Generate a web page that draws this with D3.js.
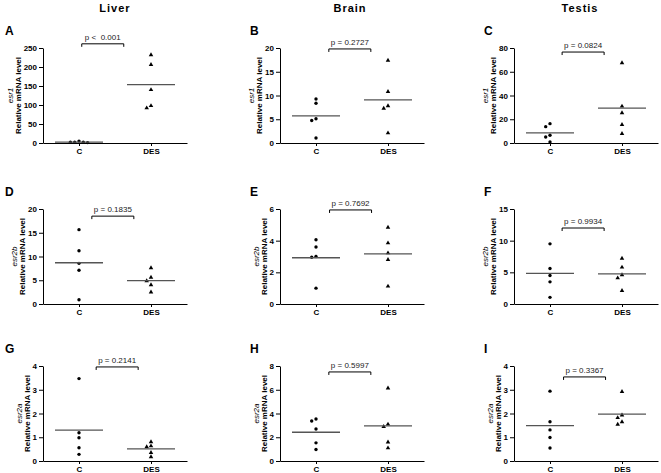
<!DOCTYPE html>
<html>
<head>
<meta charset="utf-8">
<script src="https://cdn.jsdelivr.net/npm/d3@7"></script>
<style>
  body { margin: 0; background: #fff; }
  svg { font-family: 'Liberation Sans', Arial, sans-serif; }
  .axis text { font-size: 8px; font-weight: bold; fill: #000; }
  .axis path, .axis line { stroke: #000; }
</style>
</head>
<body>
<div class="chart"></div>
<script>
'use strict'
// Data.
const tissues = ['Liver', 'Brain', 'Testis'];
const genes = ['esr1', 'esr2b', 'esr2a'];
const groups = ['C', 'DES'];
const letters = [['A', 'B', 'C'], ['D', 'E', 'F'], ['G', 'H', 'I']];

// esr1
const liverEsr1C = [5, 2, 1, 2, 2];
const liverEsr1DES = [232, 206, 140, 92, 98];
const brainEsr1C = [9.27, 8.36, 5.09, 4.74, 1.05];
const brainEsr1DES = [17.4, 10.8, 7.8, 7.3, 2.1];
const testisEsr1C = [16.3, 13.75, 6.5, 5.05, 0.8];
const testisEsr1DES = [67.4, 30.9, 25.3, 15.4, 7.9];
// esr2b
const liverEsr2bC = [15.65, 11.2, 8.56, 7.1, 0.9];
const liverEsr2bDES = [7.6, 5.6, 4.85, 4.0, 2.5];
const brainEsr2bC = [4.06, 3.6, 3.0, 2.95, 1.0];
const brainEsr2bDES = [4.84, 3.85, 3.22, 2.8, 1.12];
const testisEsr2bC = [9.5, 5.6, 4.5, 3.5, 1.05];
const testisEsr2bDES = [7.2, 5.8, 4.6, 4.1, 2.1];
// esr2a
const liverEsr2aC = [3.47, 1.19, 0.98, 0.56, 0.28];
const liverEsr2aDES = [0.8, 0.63, 0.59, 0.35, 0.17];
const brainEsr2aC = [3.54, 3.37, 2.7, 1.53, 0.97];
const brainEsr2aDES = [6.13, 3.09, 2.9, 1.59, 1.09];
const testisEsr2aC = [2.94, 1.65, 1.31, 0.99, 0.55];
const testisEsr2aDES = [2.92, 1.93, 1.82, 1.65, 1.54];

const panelValues = [
  [[liverEsr1C, liverEsr1DES], [brainEsr1C, brainEsr1DES], [testisEsr1C, testisEsr1DES]],
  [[liverEsr2bC, liverEsr2bDES], [brainEsr2bC, brainEsr2bDES], [testisEsr2bC, testisEsr2bDES]],
  [[liverEsr2aC, liverEsr2aDES], [brainEsr2aC, brainEsr2aDES], [testisEsr2aC, testisEsr2aDES]]
];

// y axis maxima and tick steps
const yMax = [[250, 20, 80], [20, 6, 15], [4, 8, 4]];
const yStep = [[50, 5, 20], [5, 2, 5], [1, 2, 1]];

// p values and the height (data units) of the comparison bracket
const pLabels = [
  ['p <  0.001', 'p = 0.2727', 'p = 0.0824'],
  ['p = 0.1835', 'p = 0.7692', 'p = 0.9934'],
  ['p = 0.2141', 'p = 0.5997', 'p = 0.3367']
];
const bracketLevel = [[261, 19.8, 76.6], [18.5, 5.94, 12.0], [3.96, 7.5, 3.54]];

// Layout.
const width = 661;
const height = 473;
const colLeft = [43, 280, 514];
const plotWidth = 144;
const rowTop = [48, 209, 366];
const plotHeight = 95;
const bracketCenter = [[0.33, 0.47, 0.46], [0.47, 0.48, 0.46], [0.53, 0.47, 0.48]];
const bracketHalf = 21;

const svg = d3.select('.chart')
  .append('svg')
  .attr('width', width)
  .attr('height', height);

// column titles
svg.selectAll('.title')
  .data(tissues)
  .enter()
  .append('text')
  .attr('class', 'title')
  .attr('x', (d, i) => colLeft[i] + [72, 70, 66][i])
  .attr('y', 12)
  .attr('text-anchor', 'middle')
  .style('font-size', '11px')
  .style('font-weight', 'bold')
  .style('letter-spacing', '1px')
  .text(d => d);

// spread points of similar value sideways, like a column scatter
function dodge(values, y, cx) {
  const stepX = 4.3, minDist = 4;
  const placed = [];
  const order = values.map((v, i) => i).sort((a, b) => values[b] - values[a]);
  const slots = [0, -1, 1, -2, 2, -3, 3];
  order.forEach(i => {
    const py = y(values[i]);
    for (const s of slots) {
      const px = cx + s * stepX;
      if (placed.every(p => Math.hypot(p.x - px, p.y - py) >= minDist)) {
        placed.push({ x: px, y: py, v: values[i] });
        break;
      }
    }
  });
  return placed;
}

const triangle = d3.symbol().type(d3.symbolTriangle).size(9);

for (let r = 0; r < 3; r++) {
  for (let c = 0; c < 3; c++) {
    const x0 = colLeft[c];
    const y0 = rowTop[r];
    const g = svg.append('g');

    const x = d3.scalePoint(groups, [x0, x0 + plotWidth]).padding(0.5);
    const y = d3.scaleLinear([0, yMax[r][c]], [y0 + plotHeight, y0]);

    // panel letter
    g.append('text')
      .attr('x', c === 0 ? 5 : x0 - 30)
      .attr('y', y0 - 13)
      .style('font-size', '12px')
      .style('font-weight', 'bold')
      .text(letters[r][c]);

    // axes
    const yAxis = d3.axisLeft(y)
      .tickValues(d3.range(0, yMax[r][c] + yStep[r][c] / 2, yStep[r][c]))
      .tickFormat(d3.format('~g'))
      .tickSize(4)
      .tickSizeOuter(0)
      .tickPadding(2);
    const yAxisDraw = g.append('g')
      .attr('class', 'y axis')
      .attr('transform', `translate(${x0}, 0)`)
      .call(yAxis);

    const xAxis = d3.axisBottom(x)
      .tickSize(3)
      .tickSizeOuter(0)
      .tickPadding(2);
    g.append('g')
      .attr('class', 'x axis')
      .attr('transform', `translate(0, ${y0 + plotHeight})`)
      .call(xAxis);

    // y label
    const tickLeft = yAxisDraw.node().getBBox().x + x0;
    const label = g.append('text')
      .attr('transform', `translate(${tickLeft - 11}, ${y0 + plotHeight / 2}) rotate(-90)`)
      .attr('text-anchor', 'middle')
      .style('font-size', '8px');
    label.append('tspan')
      .style('font-style', 'italic')
      .text(genes[r]);
    label.append('tspan')
      .attr('x', 0)
      .attr('dy', '1.05em')
      .style('font-weight', 'bold')
      .text('Relative mRNA level');

    // points and means
    groups.forEach((grp, gi) => {
      const vals = panelValues[r][c][gi];
      const cx = x(grp);
      const pts = dodge(vals, y, cx);
      if (grp === 'C') {
        g.selectAll('.pc')
          .data(pts)
          .enter()
          .append('circle')
          .attr('cx', d => d.x)
          .attr('cy', d => d.y)
          .attr('r', 1.7)
          .style('fill', '#000');
      } else {
        g.selectAll('.pd')
          .data(pts)
          .enter()
          .append('path')
          .attr('d', triangle)
          .attr('transform', d => `translate(${d.x}, ${d.y})`)
          .style('fill', '#000');
      }
      const m = d3.mean(vals);
      g.append('line')
        .attr('x1', cx - 24)
        .attr('x2', cx + 24)
        .attr('y1', y(m))
        .attr('y2', y(m))
        .style('stroke', '#555')
        .style('stroke-width', 1.3);
    });

    // comparison bracket
    const bx = x('C') + (x('DES') - x('C')) * bracketCenter[r][c];
    const by = y(bracketLevel[r][c]);
    g.append('path')
      .attr('d', `M${bx - bracketHalf},${by + 3}V${by}H${bx + bracketHalf}V${by + 3}`)
      .style('fill', 'none')
      .style('stroke', '#000')
      .style('stroke-width', 1);
    g.append('text')
      .attr('x', bx)
      .attr('y', by - 4)
      .attr('text-anchor', 'middle')
      .style('font-size', '8px')
      .style('fill', '#222')
      .style('white-space', 'pre')
      .text(pLabels[r][c]);
  }
}
</script>
</body>
</html>
